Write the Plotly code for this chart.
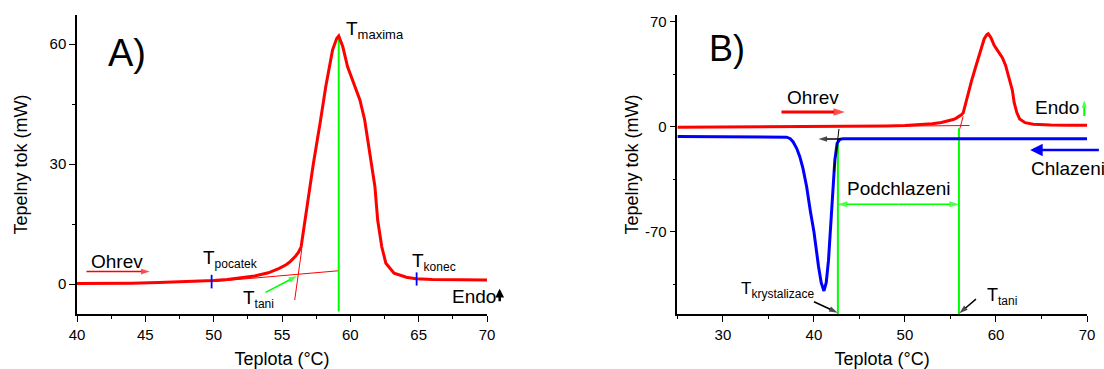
import plotly.graph_objects as go

# ---------------- data ----------------
# heating curve (red), shared by panels A and B
temp_heat = [25, 30, 35, 40, 42, 44, 46, 48, 50, 51, 52, 53, 54, 54.8, 55.3, 55.6, 56.0, 56.2,
             56.4, 56.6, 56.8, 57.3, 57.8, 58.2, 58.7, 59.0, 59.15, 59.45, 59.8, 60.2, 60.7,
             61.05, 61.4, 61.8, 62.0, 62.3, 62.6, 63.2, 64.1, 64.8, 66, 68, 70]
flow_heat = [-0.3, -0.2, -0.1, 0.0, 0.1, 0.2, 0.35, 0.55, 0.85, 1.1, 1.5, 2.0, 2.8, 3.9, 4.8, 5.6, 7.0, 7.9,
             9.3, 14.0, 19.3, 30.2, 40.5, 49.3, 58.5, 61.4, 62.0, 59.3, 54.3, 50.6, 46.0,
             41.0, 33.5, 24.3, 16.0, 9.3, 5.2, 2.7, 1.7, 1.3, 1.1, 1.0, 1.0]

# cooling curve (blue), panel B
temp_cool = [25, 30, 35, 36.5, 37.0, 37.4, 37.7, 38.1, 38.45, 38.8, 39.2, 39.6, 40.0, 40.5, 40.8,
             41.1, 41.35, 41.6, 41.95, 42.3, 42.55, 42.85, 43.2, 45, 50, 55, 60, 65, 70]
flow_cool = [-6.5, -6.6, -6.7, -6.8, -7.0, -8.0, -10, -14.4, -20, -28, -40, -56, -70, -93, -104,
             -109.5, -104, -89, -53, -22, -11, -8.4, -8.1, -8.0, -8.0, -8.0, -8.0, -8.0, -8.0]

# panel A construction lines
a_base_tan_x = [50, 59.1]
a_base_tan_y = [0.6, 3.3]
a_steep_tan_x = [55.93, 56.45]
a_steep_tan_y = [-4.0, 8.8]
a_tmax_x = [59.15, 59.15]
a_tmax_y = [62.0, -6.9]
a_tpoc_x = [49.85, 49.85]
a_tpoc_y = [-1.1, 2.3]
a_tkon_x = [64.85, 64.85]
a_tkon_y = [-0.4, 2.9]

# panel B construction lines
b_base_tan_x = [44, 57.1]
b_base_tan_y = [0.1, 0.8]
b_steep_tan_x = [55.95, 56.4]
b_steep_tan_y = [-3.0, 7.0]
b_cryst_tan_x = [42.75, 42.2]
b_cryst_tan_y = [-1.5, -30]
b_tkrys_x = [42.63, 42.63]
b_tkrys_y = [-9, -125]
b_ttani_x = [55.93, 55.93]
b_ttani_y = [-1, -125]

RED = "#ff0000"
BLUE = "#0000ff"
GREEN = "#00ff00"
BLACK = "#000000"
FONT = "Liberation Sans, Arial, sans-serif"

fig = go.Figure()


def line(x, y, color, width, xa="x", ya="y"):
    fig.add_trace(go.Scatter(x=x, y=y, mode="lines", line=dict(color=color, width=width),
                             xaxis=xa, yaxis=ya, hoverinfo="skip", showlegend=False))


def arrow_trace(x0, y0, x1, y1, color, width, head, xa="x", ya="y"):
    fig.add_trace(go.Scatter(x=[x0, x1], y=[y0, y1], mode="lines+markers",
                             line=dict(color=color, width=width),
                             marker=dict(symbol=["circle", "arrow"], size=[0, head],
                                         angleref="previous", color=color,
                                         line=dict(width=0)),
                             xaxis=xa, yaxis=ya, hoverinfo="skip", showlegend=False,
                             cliponaxis=False))


# ---- panel A ----
line(a_base_tan_x, a_base_tan_y, RED, 1)
line(a_steep_tan_x, a_steep_tan_y, RED, 1)
line(a_tmax_x, a_tmax_y, GREEN, 2)
line(temp_heat, flow_heat, RED, 3)
line(a_tpoc_x, a_tpoc_y, BLUE, 1.8)
line(a_tkon_x, a_tkon_y, BLUE, 1.8)
arrow_trace(40.69, 3.1, 45.32, 3.1, RED, 1.5, 9)
arrow_trace(53.8, -2.1, 56.1, 2.0, GREEN, 1.6, 9)

# ---- panel B ----
line(b_base_tan_x, b_base_tan_y, RED, 1, "x2", "y2")
line(b_steep_tan_x, b_steep_tan_y, RED, 1, "x2", "y2")
line(b_tkrys_x, b_tkrys_y, GREEN, 2, "x2", "y2")
line(b_ttani_x, b_ttani_y, GREEN, 2, "x2", "y2")
line(temp_cool, flow_cool, BLUE, 3, "x2", "y2")
line(temp_heat, flow_heat, RED, 3, "x2", "y2")
line(b_cryst_tan_x, b_cryst_tan_y, BLACK, 1, "x2", "y2")
arrow_trace(36.44, 9.8, 43.4, 9.8, RED, 3, 12, "x2", "y2")
arrow_trace(69.7, 7.1, 69.7, 17.7, GREEN, 2, 8, "x2", "y2")
arrow_trace(49.3, -51.7, 55.93, -51.7, GREEN, 1.6, 10, "x2", "y2")
arrow_trace(49.3, -51.7, 42.63, -51.7, GREEN, 1.6, 10, "x2", "y2")
arrow_trace(43.0, -8.2, 40.5, -8.2, BLACK, 1.5, 9, "x2", "y2")
arrow_trace(40.0, -116.7, 42.6, -124, BLACK, 1.5, 9, "x2", "y2")
arrow_trace(57.8, -115, 55.98, -124.4, BLACK, 1.5, 9, "x2", "y2")

ann = []


def text(x, y, s, size, xa="x", ya="y", xanchor="left", yanchor="middle"):
    ann.append(dict(x=x, y=y, xref=xa, yref=ya, text=s, showarrow=False,
                    xanchor=xanchor, yanchor=yanchor,
                    font=dict(family=FONT, size=size, color=BLACK)))


def tsub(sub, subsize):
    return "T<sub><span style='font-size:%dpx'>%s</span></sub>" % (subsize, sub)


# panel A labels
text(42.1, 57.75, "A)", 38)
text(59.57, 63.6, tsub("maxima", 13), 19)
text(42.94, 5.6, "Ohrev", 19, xanchor="center")
text(49.1, 6.2, tsub("pocatek", 12), 19)
text(64.34, 5.6, tsub("konec", 12), 19)
text(52.03, -3.8, tsub("tani", 12), 19)
text(69.07, -3.2, "Endo", 19, xanchor="center")
# small black "Endo" arrow just right of the axis end (outside the data range)
ann.append(dict(x=(500 - 77.3) / 410.0, y=-1.2, xref="x domain", yref="y", text="",
                showarrow=True, axref="pixel", ayref="pixel", ax=0, ay=14,
                arrowhead=2, arrowsize=0.7, arrowwidth=2.5, arrowcolor=BLACK, standoff=0))

# panel B labels
text(28.3, 52.3, "B)", 36, "x2", "y2")
text(39.92, 19.6, "Ohrev", 19, "x2", "y2", xanchor="center")
text(64.05, 12.7, "Endo", 19, "x2", "y2")
text(63.65, -27.7, "Chlazeni", 19, "x2", "y2")
ann.append(dict(x=63.76, y=-15.5, ax=71.47, ay=-15.5, xref="x2", yref="y2", axref="x2", ayref="y2",
                text="", showarrow=True, arrowhead=2, arrowsize=1.0, arrowwidth=2.5,
                arrowcolor=BLUE, standoff=0))
text(49.33, -41, "Podchlazeni", 19, "x2", "y2", xanchor="center")
text(31.78, -109, tsub("krystalizace", 12), 17, "x2", "y2")
text(58.8, -113.5, tsub("tani", 12), 18, "x2", "y2")

axis_common = dict(showline=True, linecolor=BLACK, linewidth=1.5, ticks="outside",
                   ticklen=6, tickwidth=1.2, tickcolor=BLACK, showgrid=False, zeroline=False,
                   mirror=False, automargin=False,
                   tickfont=dict(family=FONT, size=15, color=BLACK),
                   title_font=dict(family=FONT, size=18, color=BLACK))

fig.update_layout(
    width=1104, height=369,
    margin=dict(l=77, r=17, t=15, b=55),
    paper_bgcolor="white", plot_bgcolor="white",
    showlegend=False,
    annotations=ann,
    xaxis=dict(domain=[0, 0.40594], range=[40, 70], tickvals=[40, 45, 50, 55, 60, 65, 70],
               minor=dict(dtick=2.5, ticklen=3, tickcolor=BLACK, ticks="outside"),
               title=dict(text="Teplota (°C)", standoff=11), anchor="y", **axis_common),
    yaxis=dict(domain=[0, 1], range=[-7.5, 67.25], tickvals=[0, 30, 60],
               minor=dict(tickvals=[15, 45], ticklen=3, tickcolor=BLACK, ticks="outside"),
               title=dict(text="Tepelny tok (mW)", standoff=17), anchor="x", **axis_common),
    xaxis2=dict(domain=[0.59446, 1], range=[25, 70], tickvals=[30, 40, 50, 60, 70],
                minor=dict(tickvals=[25, 35, 45, 55, 65], ticklen=3, tickcolor=BLACK, ticks="outside"),
                title=dict(text="Teplota (°C)", standoff=11), anchor="y2", **axis_common),
    yaxis2=dict(domain=[0, 1], range=[-124.9, 74.5], tickvals=[70, 0, -70],
                ticktext=["70", "0", "-70"],
                minor=dict(tickvals=[35, -35, -105], ticklen=3, tickcolor=BLACK, ticks="outside"),
                title=dict(text="Tepelny tok (mW)", standoff=2), anchor="x2", **axis_common),
)

fig.write_html("out.html")
